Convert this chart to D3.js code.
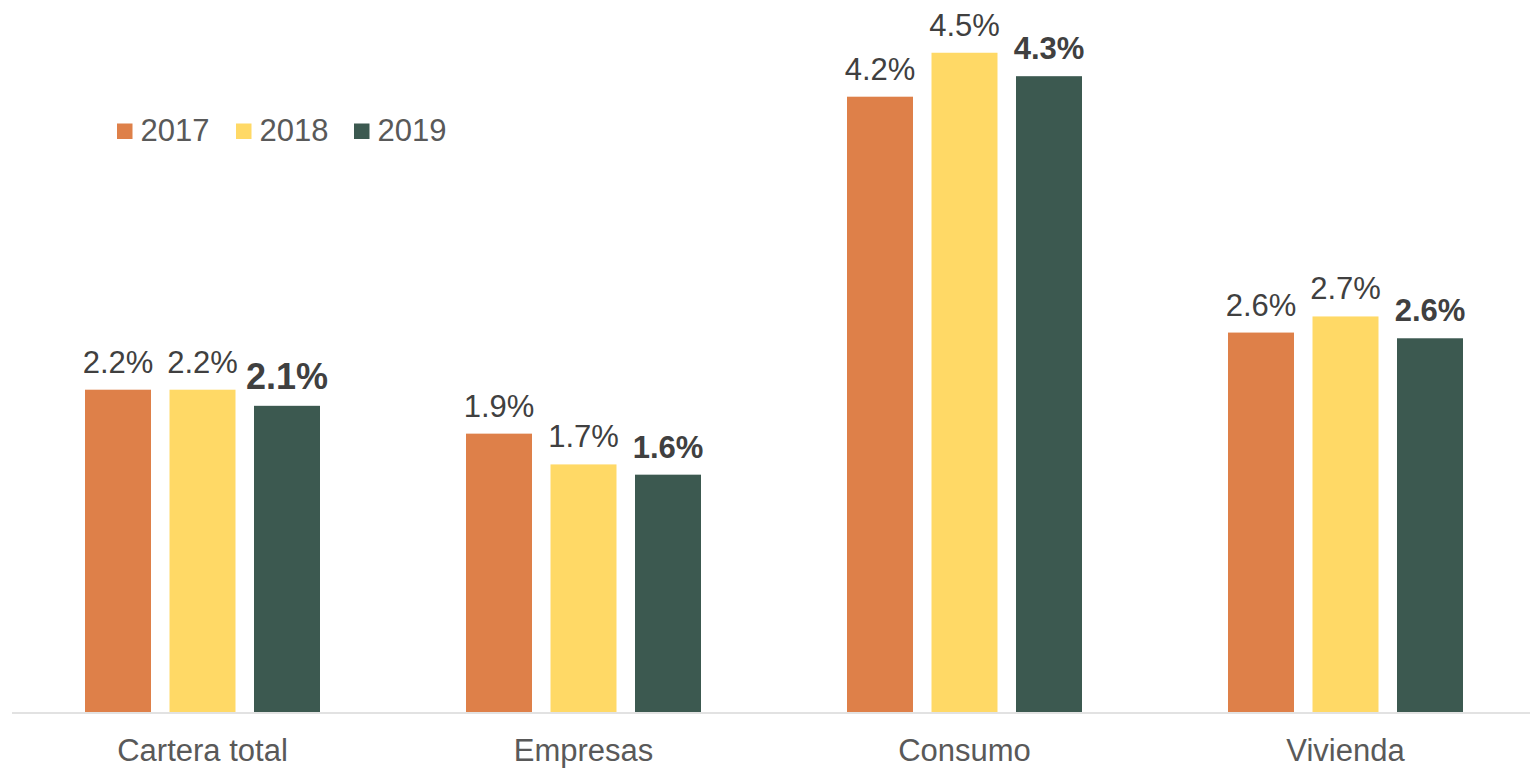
<!DOCTYPE html>
<html><head><meta charset="utf-8">
<script src="https://cdn.jsdelivr.net/npm/d3@7"></script>
<style>body{margin:0;background:#fff}svg{display:block;font-family:"Liberation Sans",Arial,sans-serif}</style>
</head><body><svg id="c" width="1530" height="768"></svg>
<script>
const categories = ["Cartera total", "Empresas", "Consumo", "Vivienda"];
const years = ["2017", "2018", "2019"];
const v2017 = [2.2, 1.9, 4.2, 2.59];
const v2018 = [2.2, 1.69, 4.5, 2.7];
const v2019 = [2.09, 1.62, 4.34, 2.551];
const colors = ["#DE8049", "#FFD966", "#3C5950"];

const series = [v2017, v2018, v2019];
const data = categories.map((c, i) => ({cat: c, vals: years.map((y, j) => ({year: y, j, v: series[j][i]}))}));

const svg = d3.select("#c");
const base = 712;
const x0 = d3.scaleBand().domain(categories).range([12, 1536]).padding(0);
const x1 = d3.scaleBand().domain(years).range([0, x0.bandwidth()]).paddingInner(0.219).paddingOuter(0.864);
const y = d3.scaleLinear().domain([0, 4.8]).range([base, base - 4.8 * 146.5]);
const fmt = d3.format(".1f");

const g = svg.selectAll("g.cat").data(data).join("g").attr("transform", d => `translate(${x0(d.cat)},0)`);
g.selectAll("rect").data(d => d.vals).join("rect")
  .attr("x", d => x1(d.year)).attr("width", x1.bandwidth())
  .attr("y", d => y(d.v)).attr("height", d => y(0) - y(d.v))
  .attr("fill", d => colors[d.j]);
g.selectAll("text.lbl").data((d, i) => d.vals.map(e => ({...e, ci: i}))).join("text").attr("class", "lbl")
  .attr("x", d => x1(d.year) + x1.bandwidth() / 2)
  .attr("y", d => y(d.v) - 17)
  .attr("text-anchor", "middle")
  .attr("fill", "#404040")
  .attr("font-weight", d => d.j === 2 ? "bold" : "normal")
  .attr("font-size", d => (d.j === 2 && d.ci === 0) ? 36 : 31)
  .text(d => fmt(d.v) + "%");

// axis
const xAxis = d3.axisBottom(x0).tickSize(0).tickPadding(0);
const ax = svg.append("g").attr("transform", `translate(0,${base + 1})`).call(xAxis);
ax.select(".domain").attr("stroke", "#D9D9D9").attr("stroke-width", 1.5).attr("d", "M12,0H1530");
ax.selectAll("text").attr("font-size", 31).attr("fill", "#595959").attr("dy", null).attr("y", 48)
  .attr("font-family", "'Liberation Sans', Arial, sans-serif");

// legend
const legX = [117, 236, 354];
const leg = svg.append("g").selectAll("g").data(years).join("g").attr("transform", (d, i) => `translate(${legX[i]},0)`);
leg.append("rect").attr("x", 0).attr("y", 123.5).attr("width", 15.5).attr("height", 15.5).attr("fill", (d, i) => colors[i]);
leg.append("text").attr("x", 23.5).attr("y", 141.3).attr("font-size", 31).attr("fill", "#595959").text(d => d);
</script></body></html>
